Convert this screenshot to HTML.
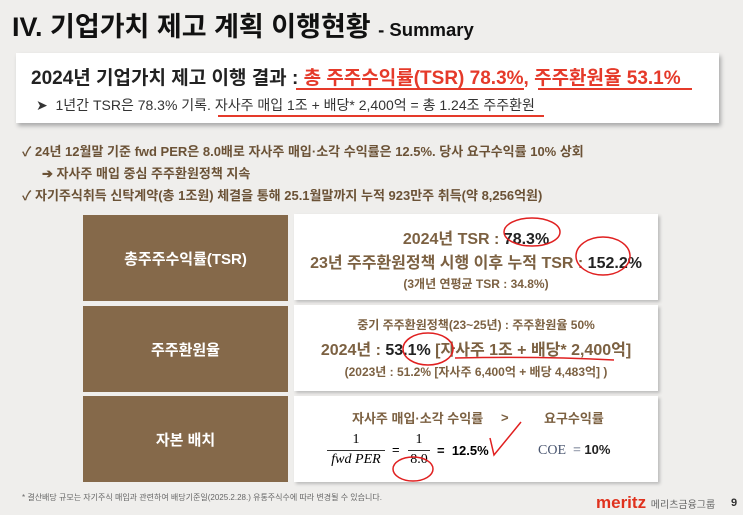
<!DOCTYPE html>
<html><head><meta charset="utf-8"><style>
body{margin:0;width:743px;height:515px;background:#efeeec;font-family:"Liberation Sans","Noto Sans CJK KR",sans-serif;position:relative;overflow:hidden}
div,span{position:absolute;white-space:nowrap}
.brown{background:#85694a;color:#fff;font-weight:bold;font-size:15px;display:flex;align-items:center;justify-content:center;left:83px;width:205px;height:86px}
.white{background:#fff;left:294px;width:364px;height:86px;box-shadow:2px 2px 3px #bbb}
.t{color:#7c6142;font-weight:bold;position:absolute;left:0;width:100%;text-align:center}
.r{color:#e53a2a}
</style></head><body>
<div style="left:12px;top:5px;font-size:27px;font-weight:bold;color:#111">IV. 기업가치 제고 계획 이행현황 <span style="position:static;font-size:18.5px">- Summary</span></div>
<div style="left:16px;top:53px;width:703px;height:70px;background:#fff;box-shadow:2px 3px 4px #aaa">
 <div style="left:15px;top:10px;font-size:19px;font-weight:bold;color:#222">2024년 기업가치 제고 이행 결과 : <span class="r" style="position:static">총 주주수익률(TSR) 78.3%, 주주환원율 53.1%</span></div>
 <div style="left:280px;top:35px;width:228px;height:2px;background:#e53a2a"></div>
 <div style="left:522px;top:35px;width:154px;height:2px;background:#e53a2a"></div>
 <div style="left:20px;top:42px;font-size:14px;color:#333">➤ &nbsp;1년간 TSR은 78.3% 기록. 자사주 매입 1조 + 배당* 2,400억 = 총 1.24조 주주환원</div>
 <div style="left:202px;top:62px;width:326px;height:1.5px;background:#e53a2a"></div>
</div>
<div style="left:22px;top:141px;font-size:13px;color:#6b5236;font-weight:bold">✓ 24년 12월말 기준 fwd PER은 8.0배로 자사주 매입·소각 수익률은 12.5%. 당사 요구수익률 10% 상회</div>
<div style="left:42px;top:163px;font-size:13px;color:#6b5236;font-weight:bold">➔ 자사주 매입 중심 주주환원정책 지속</div>
<div style="left:22px;top:185px;font-size:13px;color:#6b5236;font-weight:bold">✓ 자기주식취득 신탁계약(총 1조원) 체결을 통해 25.1월말까지 누적 923만주 취득(약 8,256억원)</div>

<div class="brown" style="top:215px">총주주수익률(TSR)</div>
<div class="brown" style="top:306px">주주환원율</div>
<div class="brown" style="top:396px">자본 배치</div>

<div class="white" style="top:214px">
 <div class="t" style="top:11px;font-size:16px">2024년 TSR : <span style="position:static;color:#222">78.3%</span></div>
 <div class="t" style="top:35px;font-size:16px">23년 주주환원정책 시행 이후 누적 TSR : <span style="position:static;color:#222">152.2%</span></div>
 <div class="t" style="top:61px;font-size:12px">(3개년 연평균 TSR : 34.8%)</div>
</div>
<div class="white" style="top:305px">
 <div class="t" style="top:11px;font-size:12px">중기 주주환원정책(23~25년) : 주주환원율 50%</div>
 <div class="t" style="top:31px;font-size:16px">2024년 : <span style="position:static;color:#222">53.1%</span> [자사주 1조 + 배당* 2,400억]</div>
 <div class="t" style="top:58px;font-size:12px">(2023년 : 51.2% [자사주 6,400억 + 배당 4,483억] )</div>
</div>
<div class="white" style="top:396px">
 <div class="t" style="top:12px;font-size:13px;left:58px;width:auto">자사주 매입·소각 수익률</div>
 <div class="t" style="top:14px;font-size:13px;left:207px;width:auto">&gt;</div>
 <div class="t" style="top:12px;font-size:13px;left:250px;width:auto">요구수익률</div>
 <div style="left:33px;top:36px;width:58px;text-align:center;font-family:'Liberation Serif',serif;font-size:14px">1</div>
 <div style="left:33px;top:54px;width:58px;height:1px;background:#333"></div>
 <div style="left:33px;top:56px;width:58px;text-align:center;font-family:'Liberation Serif',serif;font-style:italic;font-size:14px">fwd PER</div>
 <div style="left:98px;top:46px;font-size:13px">=</div>
 <div style="left:114px;top:36px;width:22px;text-align:center;font-family:'Liberation Serif',serif;font-size:14px">1</div>
 <div style="left:114px;top:54px;width:22px;height:1px;background:#333"></div>
 <div style="left:114px;top:56px;width:22px;text-align:center;font-family:'Liberation Serif',serif;font-size:14px">8.0</div>
 <div style="left:143px;top:47px;font-size:13px;font-weight:bold">= &nbsp;12.5%</div>
 <div style="left:244px;top:46px;font-size:14px;font-family:'Liberation Serif',serif;color:#4a5670">COE &nbsp;= <b style="position:static;font-family:'Liberation Sans',sans-serif;color:#222;font-size:13px">10%</b></div>
</div>
<svg width="743" height="515" style="position:absolute;left:0;top:0" fill="none" stroke="#e02020" stroke-width="1.5">
 <ellipse cx="532" cy="232" rx="28" ry="14"/>
 <ellipse cx="603" cy="256" rx="27" ry="19"/>
 <ellipse cx="428" cy="349" rx="25" ry="16"/>
 <path d="M455 358 Q 540 356 614 360"/>
 <path d="M490 438 L494 455 L521 422"/>
 <ellipse cx="413" cy="469" rx="20" ry="12"/>
</svg>
<div style="left:22px;top:492px;font-size:8px;color:#666">* 결산배당 규모는 자기주식 매입과 관련하여 배당기준일(2025.2.28.) 유통주식수에 따라 변경될 수 있습니다.</div>
<div style="left:596px;top:493px;font-size:17px;font-weight:bold;color:#e0321e">meritz <span style="position:static;font-size:10px;color:#666;font-weight:normal">메리츠금융그룹</span></div>
<div style="left:731px;top:497px;font-size:11px;font-weight:bold;color:#333">9</div>
</body></html>
